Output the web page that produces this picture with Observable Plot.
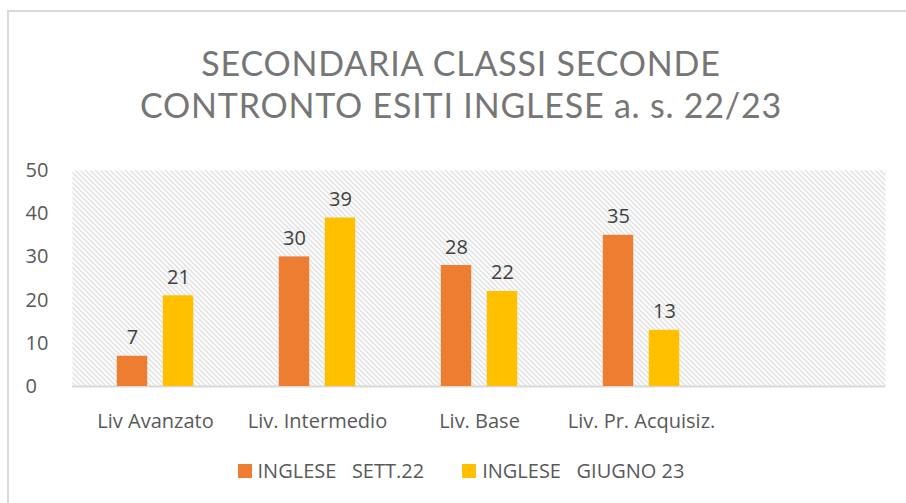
<!DOCTYPE html>
<html><head><meta charset="utf-8">
<script src="https://cdn.jsdelivr.net/npm/d3@7"></script>
<script src="https://cdn.jsdelivr.net/npm/@observablehq/plot@0.6"></script>
<style>
body{margin:0;background:#fff;width:906px;height:503px;overflow:hidden;position:relative;font-family:"Open Sans",sans-serif;}
#border{position:absolute;left:7px;top:10px;width:1000px;height:1000px;border-left:2px solid #d9d9d9;border-top:2px solid #d9d9d9;}
#title{position:absolute;left:0;top:42px;width:922px;text-align:center;color:#767676;font-family:Lato,sans-serif;font-size:34px;line-height:42px;letter-spacing:0.8px;white-space:nowrap;}
#chart{position:absolute;left:0;top:140px;}
#legend{position:absolute;top:458px;left:0;width:922px;display:flex;justify-content:center;gap:38px;font-size:20px;line-height:26px;color:#595959;}
.item{display:flex;align-items:center;white-space:pre;}
.sw{width:14px;height:14px;margin-right:6px;}
</style></head>
<body>
<div id="border"></div>
<div id="title">SECONDARIA CLASSI SECONDE<br>CONTRONTO ESITI INGLESE a. s. 22/23</div>
<div id="chart"></div>
<div id="legend"></div>
<script>
const categories = ["Liv Avanzato", "Liv. Intermedio", "Liv. Base", "Liv. Pr. Acquisiz.", " "];
const series = ["INGLESE   SETT.22", "INGLESE   GIUGNO 23"];
const sett22 = [7, 30, 28, 35];
const giugno23 = [21, 39, 22, 13];
const yTicks = [0, 10, 20, 30, 40, 50];
const colors = ["#ED7D31", "#FFC000"];

const values = [sett22, giugno23];
const data = [];
series.forEach((s, k) => values[k].forEach((v, i) => data.push({cat: categories[i], serie: s, value: v, k})));

const W = 906, H = 300, ml = 72, mr = 21, mt = 30, mb = 54;
const bw = (W - ml - mr) / categories.length;
const barW = 31, gap = 15;
const inset = (bw - barW) / 2;
const off = (barW + gap) / 2;

const marks = [
  Plot.frame({fill: "url(#hatch)", stroke: null}),
  Plot.ruleY([0], {stroke: "#d9d9d9", strokeWidth: 2}),
  Plot.axisY({ticks: yTicks, tickSize: 0, tickPadding: 47, textAnchor: "start", fontSize: 20, label: null}),
  Plot.axisX({tickSize: 0, tickPadding: 27, fontSize: 20, label: null})
];
series.forEach((s, k) => {
  const d = data.filter(r => r.serie === s);
  const dx = k === 0 ? -off : off;
  marks.push(Plot.barY(d, {x: "cat", y: "value", fill: colors[k], dx, insetLeft: inset, insetRight: inset}));
  marks.push(Plot.text(d, {x: "cat", y: "value", text: r => String(r.value), dx, dy: -12, lineAnchor: "bottom", fill: "#404040", fontSize: 20}));
});

const svg = Plot.plot({
  width: W, height: H,
  marginLeft: ml, marginRight: mr, marginTop: mt, marginBottom: mb,
  style: {fontFamily: "'Open Sans', sans-serif", color: "#595959", background: "transparent"},
  x: {domain: categories, padding: 0, axis: null},
  y: {domain: [0, 50], axis: null},
  marks
});

const ns = "http://www.w3.org/2000/svg";
const defs = document.createElementNS(ns, "defs");
defs.innerHTML = `<pattern id="hatch" patternUnits="userSpaceOnUse" width="5" height="5">
  <rect width="5" height="5" fill="#ffffff"/>
  <path d="M-1,-1 L6,6 M-1,4 L1,6 M4,-1 L6,1" stroke="#d3d3d3" stroke-width="1.1"/>
</pattern>`;
svg.insertBefore(defs, svg.firstChild);
document.getElementById("chart").appendChild(svg);

const legend = document.getElementById("legend");
series.forEach((s, k) => {
  const it = document.createElement("div");
  it.className = "item";
  const sw = document.createElement("span");
  sw.className = "sw";
  sw.style.background = colors[k];
  const t = document.createElement("span");
  t.textContent = s;
  it.appendChild(sw); it.appendChild(t);
  legend.appendChild(it);
});
</script>
</body></html>
